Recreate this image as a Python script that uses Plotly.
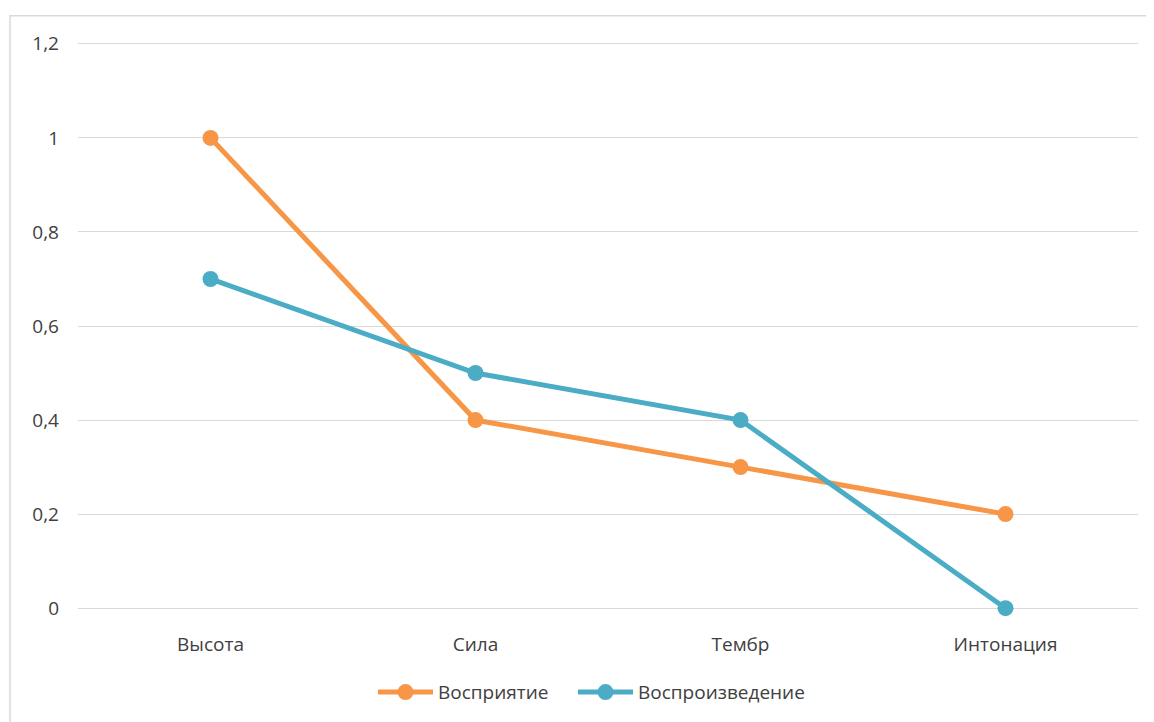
import plotly.graph_objects as go

categories = ["Высота", "Сила", "Тембр", "Интонация"]
perception = [1.0, 0.4, 0.3, 0.2]
reproduction = [0.7, 0.5, 0.4, 0.0]
y_ticks = [0, 0.2, 0.4, 0.6, 0.8, 1.0, 1.2]
y_tick_labels = ["0", "0,2", "0,4", "0,6", "0,8", "1", "1,2"]

# page body has an 8px margin; compensate so the chart lands where the reference has it
OFF = 8
W, H = 1154 - OFF, 722 - OFF
y_top_px, y_bot_px = 44 - OFF, 609 - OFF   # pixel rows of 1.2 and 0
unit = (y_bot_px - y_top_px) / 1.2
pad = 0.006                                 # small range padding so edge gridlines are drawn
L = 78 - OFF
plot_right = 1138 - OFF
R = W - plot_right
T = y_top_px - pad * unit
B = H - (y_bot_px + pad * unit)
pw, ph = W - L - R, H - T - B
plot_bottom = H - B


def px_x(page_x):
    return (page_x - OFF - L) / pw


legend_y = (plot_bottom - (692 - OFF)) / ph

fig = go.Figure()
fig.add_trace(go.Scatter(
    x=categories, y=perception, name="Восприятие", mode="lines+markers",
    line=dict(color="#F79646", width=5), marker=dict(size=16, color="#F79646"),
    cliponaxis=False, legend="legend"))
fig.add_trace(go.Scatter(
    x=categories, y=reproduction, name="Воспроизведение", mode="lines+markers",
    line=dict(color="#4BACC6", width=5), marker=dict(size=16, color="#4BACC6"),
    cliponaxis=False, legend="legend2"))

fig.add_shape(type="rect", xref="paper", yref="paper",
              x0=(10 - OFF - L) / pw, x1=(1170 - L) / pw,
              y0=(plot_bottom - 760) / ph, y1=1 + (T - (16 - OFF)) / ph,
              line=dict(color="#D9D9D9", width=1.5), layer="below")

legend_common = dict(orientation="h", xanchor="left", y=legend_y, yanchor="middle",
                     itemwidth=55, font=dict(size=19, color="#404040"),
                     bgcolor="rgba(0,0,0,0)")

fig.update_layout(
    width=W, height=H, margin=dict(l=L, r=R, t=T, b=B),
    paper_bgcolor="white", plot_bgcolor="white",
    font=dict(family="Open Sans, Noto Sans, sans-serif", size=19, color="#404040"),
    showlegend=True,
    legend=dict(x=px_x(373), **legend_common),
    legend2=dict(x=px_x(573), **legend_common),
    xaxis=dict(type="category", range=[-0.5, 3.5], showgrid=False, zeroline=False,
               showline=False, ticks="", ticklabelstandoff=20),
    yaxis=dict(range=[-pad, 1.2 + pad], tickvals=y_ticks, ticktext=y_tick_labels,
               showgrid=True, gridcolor="#D9D9D9", gridwidth=1.2, zeroline=False,
               showline=False, ticks="", ticklabelstandoff=18),
)
fig.write_html("out.html")
